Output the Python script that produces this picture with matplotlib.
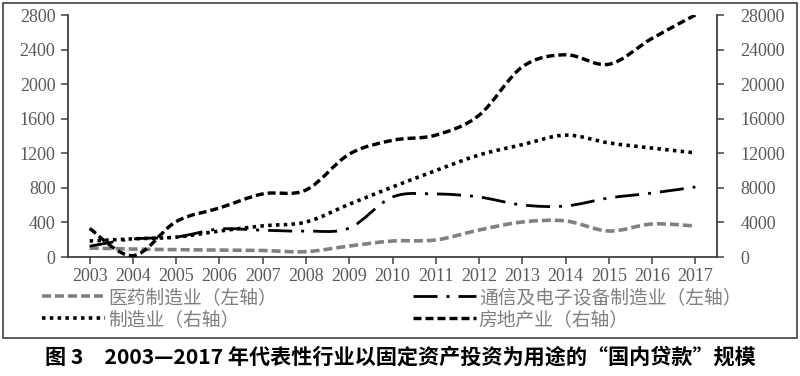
import matplotlib
matplotlib.use("Agg")
import matplotlib.pyplot as plt
import numpy as np
from matplotlib.path import Path
from matplotlib.patches import PathPatch, Rectangle
from matplotlib.lines import Line2D

plt.rcParams['lines.scale_dashes'] = False

# ---- data ----
years = ["2003", "2004", "2005", "2006", "2007", "2008", "2009", "2010",
         "2011", "2012", "2013", "2014", "2015", "2016", "2017"]
pharma = [104, 92, 85, 80, 75, 62, 127, 185, 197, 312, 405, 417, 301, 382, 359]          # left axis
telecom = [125, 208, 231, 324, 310, 300, 335, 694, 729, 694, 602, 590, 683, 740, 810]     # left axis
manufacturing = [1850, 2100, 2300, 3000, 3600, 4050, 6100, 8100, 10000, 11800,
                 13000, 14100, 13200, 12600, 12050]                                      # right axis
real_estate = [3300, 150, 4100, 5670, 7300, 7750, 11900, 13500, 14100, 16400,
               22000, 23400, 22300, 25300, 28000]                                        # right axis

label_pharma = "医药制造业（左轴）"
label_telecom = "通信及电子设备制造业（左轴）"
label_manu = "制造业（右轴）"
label_re = "房地产业（右轴）"
caption = "图 3　2003—2017 年代表性行业以固定资产投资为用途的“国内贷款”规模"

left_ticks = [0, 400, 800, 1200, 1600, 2000, 2400, 2800]
right_ticks = [0, 4000, 8000, 12000, 16000, 20000, 24000, 28000]

PX = 0.72  # points per pixel at dpi 100


def smooth_path(xs, ys):
    """Catmull-Rom style smooth curve expressed as cubic Bezier segments."""
    pts = np.column_stack([xs, ys]).astype(float)
    n = len(pts)
    verts = [pts[0]]
    codes = [Path.MOVETO]
    for i in range(n - 1):
        p0 = pts[i - 1] if i > 0 else pts[i]
        p1 = pts[i]
        p2 = pts[i + 1]
        p3 = pts[i + 2] if i + 2 < n else pts[i + 1]
        c1 = p1 + (p2 - p0) / 6.0
        c2 = p2 - (p3 - p1) / 6.0
        verts += [c1, c2, p2]
        codes += [Path.CURVE4] * 3
    return Path(verts, codes)


fig = plt.figure(figsize=(8, 3.76), dpi=100)
ax = fig.add_axes([68 / 800, 1 - 257 / 376, (717 - 68) / 800, (257 - 15) / 376])
ax2 = ax.twinx()

x = np.arange(len(years))

styles = {
    "pharma": dict(color="#808080", lw=3.6 * PX, ls=(0, (9 * PX, 4 * PX))),
    "telecom": dict(color="black", lw=2.8 * PX, ls=(0, (24 * PX, 9 * PX, 3 * PX, 9 * PX))),
    "manu": dict(color="black", lw=3.6 * PX, ls=(0, (3.5 * PX, 4.3 * PX))),
    "re": dict(color="black", lw=3.4 * PX, ls=(0, (8 * PX, 4 * PX))),
}

for axis, data, key in [(ax, pharma, "pharma"), (ax, telecom, "telecom"),
                        (ax2, manufacturing, "manu"), (ax2, real_estate, "re")]:
    s = styles[key]
    patch = PathPatch(smooth_path(x, data), fill=False, edgecolor=s["color"],
                      linewidth=s["lw"], linestyle=s["ls"], capstyle="butt")
    axis.add_patch(patch)

ax.set_xlim(-0.5, len(years) - 0.5)
ax.set_ylim(0, 2800)
ax2.set_ylim(0, 28000)
ax.set_xticks(x)
ax.set_xticklabels(years)
ax.set_yticks(left_ticks)
ax2.set_yticks(right_ticks)

spine_c = "#404040"
tick_c = "#595959"
serif = "Liberation Serif"
for a in (ax, ax2):
    for sp in a.spines.values():
        sp.set_color(spine_c)
        sp.set_linewidth(1.3)
    a.spines["top"].set_visible(False)
ax.spines["right"].set_visible(False)
ax2.spines["left"].set_visible(False)
ax2.spines["bottom"].set_visible(False)

ax.tick_params(axis="both", colors=spine_c, labelcolor=tick_c, length=5, width=1.1,
               direction="out")
ax.tick_params(axis="x", pad=3)
ax.tick_params(axis="y", pad=4)
ax2.tick_params(axis="y", colors=spine_c, labelcolor=tick_c, length=5, width=1.1,
                direction="out", pad=12)
for lab in ax.get_xticklabels() + ax.get_yticklabels() + ax2.get_yticklabels():
    lab.set_fontfamily(serif)
    lab.set_fontsize(13)

# ---- legends ----
def handle(key):
    s = styles[key]
    return Line2D([0], [0], color=s["color"], lw=s["lw"], ls=s["ls"],
                  dash_capstyle="butt")

cjk = ["Noto Sans CJK SC", "DejaVu Sans"]
fs_leg = 13.5
common = dict(frameon=False, loc="upper left", borderpad=0, borderaxespad=0,
              handlelength=63 / (fs_leg / PX), handletextpad=0.15, labelspacing=0.05,
              prop=dict(family=cjk, size=fs_leg), labelcolor="#7f7f7f")
leg1 = fig.legend([handle("pharma"), handle("manu")], [label_pharma, label_manu],
                  bbox_to_anchor=(42 / 800, 1 - 287 / 376), **common)
leg2 = fig.legend([handle("telecom"), handle("re")], [label_telecom, label_re],
                  bbox_to_anchor=(413 / 800, 1 - 287 / 376), **common)

# ---- frame and caption ----
fig.add_artist(Rectangle((3 / 800, 1 - 338 / 376), 794 / 800, 335 / 376,
                         transform=fig.transFigure, fill=False, ec="#404040", lw=1.2))
fig.text(0.5, 1 - 357 / 376, caption, ha="center", va="center", fontsize=15.2,
         family=cjk, color="black", fontweight="bold")

fig.savefig("out.png", dpi=100)
